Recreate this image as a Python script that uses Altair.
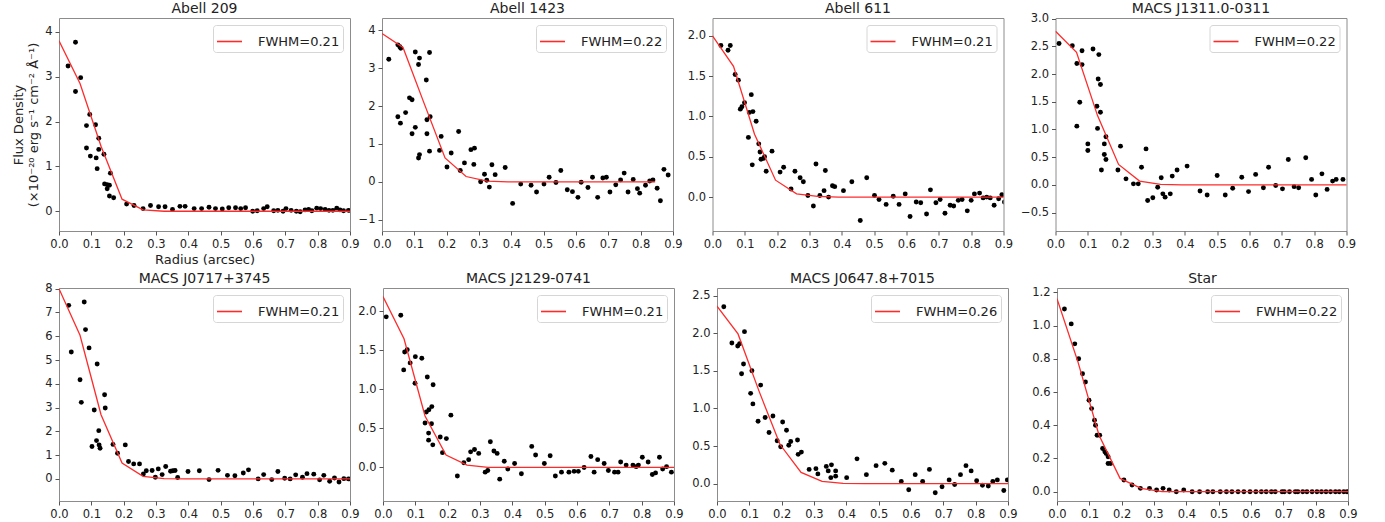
import altair as alt
import pandas as pd

# ---------------- data ----------------
MODEL_R = [0.0, 0.065, 0.13, 0.195, 0.26, 0.325, 0.39, 0.455, 0.52, 0.585,
           0.65, 0.715, 0.78, 0.845, 0.91]

TITLES = ["Abell 209", "Abell 1423", "Abell 611", "MACS J1311.0-0311",
          "MACS J0717+3745", "MACS J2129-0741", "MACS J0647.8+7015", "Star"]
FWHM_LABELS = ["FWHM=0.21", "FWHM=0.22", "FWHM=0.21", "FWHM=0.22",
               "FWHM=0.21", "FWHM=0.21", "FWHM=0.26", "FWHM=0.22"]
X_TICKS = [0.0, 0.1, 0.2, 0.3, 0.4, 0.5, 0.6, 0.7, 0.8, 0.9]

# Abell 209
A209_R = [0.028, 0.051, 0.051, 0.067, 0.085, 0.085, 0.095, 0.097, 0.113, 0.115,
          0.118, 0.123, 0.123, 0.139, 0.141, 0.149, 0.149, 0.156, 0.159, 0.156,
          0.169, 0.209, 0.232, 0.260, 0.283, 0.308, 0.328, 0.351, 0.374, 0.390,
          0.418, 0.441, 0.464, 0.484, 0.505, 0.525, 0.546, 0.562, 0.577, 0.599,
          0.613, 0.633, 0.644, 0.664, 0.677, 0.693, 0.702, 0.718, 0.734, 0.746,
          0.761, 0.772, 0.782, 0.797, 0.809, 0.823, 0.835, 0.847, 0.859, 0.869,
          0.880, 0.895]
A209_F = [3.24, 3.77, 2.67, 2.98, 1.91, 1.41, 2.16, 1.23, 1.93, 1.19,
          0.95, 1.63, 1.38, 1.27, 0.61, 0.59, 0.50, 0.58, 0.85, 0.34,
          0.30, 0.16, 0.13, 0.06, 0.13, 0.10, 0.10, 0.04, 0.11, 0.11,
          0.06, 0.06, 0.09, 0.06, 0.05, 0.08, 0.08, 0.06, 0.08, 0.00,
          0.01, 0.06, 0.10, 0.01, 0.02, 0.00, 0.06, 0.02, 0.00, -0.01,
          0.03, 0.04, 0.01, 0.07, 0.06, 0.04, 0.02, 0.02, 0.07, 0.03,
          0.01, 0.02]
A209_MODEL = [3.80, 2.85, 1.45, 0.27, 0.03, 0.0, 0.0, 0.0, 0.0, 0.0, 0.0, 0.0, 0.0, 0.0, 0.0]

# Abell 1423
A1423_R = [0.021, 0.049, 0.055, 0.058, 0.049, 0.057, 0.073, 0.085, 0.093, 0.093,
           0.103, 0.103, 0.113, 0.116, 0.113, 0.116, 0.137, 0.139, 0.139, 0.147,
           0.149, 0.147, 0.178, 0.183, 0.201, 0.214, 0.237, 0.242, 0.255, 0.275,
           0.286, 0.284, 0.305, 0.317, 0.324, 0.332, 0.340, 0.350, 0.381, 0.404,
           0.429, 0.461, 0.478, 0.501, 0.517, 0.538, 0.553, 0.573, 0.589, 0.606,
           0.616, 0.637, 0.651, 0.667, 0.683, 0.694, 0.705, 0.723, 0.738, 0.749,
           0.761, 0.777, 0.790, 0.797, 0.815, 0.828, 0.838, 0.851, 0.861, 0.872,
           0.885]
A1423_F = [3.24, 3.62, 3.57, 3.53, 1.72, 1.55, 1.83, 2.22, 2.17, 1.27,
           3.43, 1.44, 3.10, 3.27, 0.63, 0.72, 2.69, 1.64, 1.27, 3.42,
           1.72, 0.81, 0.83, 1.20, 0.39, 0.76, 1.33, 0.30, 0.50, 0.85,
           0.89, 0.46, 0.00, 0.20, 0.04, -0.14, 0.45, 0.19, 0.38, -0.57,
           -0.06, -0.09, -0.27, -0.06, 0.12, -0.02, 0.30, -0.21, -0.26, -0.41,
           -0.01, -0.15, 0.12, -0.41, 0.10, 0.12, -0.27, -0.08, 0.05, 0.23,
           -0.27, 0.06, -0.18, -0.30, -0.09, 0.02, 0.05, -0.17, -0.50, 0.33,
           0.18]
A1423_MODEL = [3.92, 3.55, 2.08, 0.63, 0.14, 0.02, 0.0, 0.0, 0.0, 0.0, 0.0, 0.0, 0.0, 0.0]

# Abell 611
A611_R = [0.026, 0.048, 0.055, 0.070, 0.080, 0.086, 0.091, 0.099, 0.111, 0.114,
          0.120, 0.125, 0.123, 0.135, 0.143, 0.147, 0.150, 0.158, 0.161, 0.166,
          0.184, 0.209, 0.220, 0.243, 0.255, 0.271, 0.281, 0.295, 0.312, 0.320,
          0.332, 0.345, 0.349, 0.359, 0.371, 0.378, 0.405, 0.431, 0.457, 0.477,
          0.501, 0.515, 0.537, 0.559, 0.577, 0.596, 0.611, 0.630, 0.644, 0.662,
          0.674, 0.691, 0.704, 0.719, 0.735, 0.746, 0.760, 0.772, 0.788, 0.800,
          0.810, 0.826, 0.837, 0.848, 0.859, 0.871, 0.885, 0.895, 0.903]
A611_F = [1.88, 1.82, 1.88, 1.52, 1.45, 1.09, 1.12, 1.17, 0.74, 1.05,
          1.27, 1.06, 0.40, 0.94, 0.66, 0.56, 0.47, 0.48, 0.50, 0.32,
          0.57, 0.31, 0.37, 0.10, 0.32, 0.24, 0.19, 0.02, -0.11, 0.41,
          0.02, 0.08, 0.33, 0.00, 0.14, 0.13, 0.08, 0.19, -0.29, 0.24,
          0.02, -0.03, -0.09, 0.01, -0.09, 0.04, -0.24, -0.06, -0.07, -0.21,
          0.09, -0.07, -0.03, -0.20, -0.10, -0.11, -0.04, -0.03, -0.17, -0.04,
          0.04, 0.05, -0.01, 0.00, -0.01, -0.10, -0.02, 0.03, -0.06]
A611_MODEL = [2.00, 1.62, 0.78, 0.21, 0.04, 0.01, 0.0, 0.0, 0.0, 0.0, 0.0, 0.0, 0.0, 0.0, 0.0]

# MACS J1311.0-0311
M1311_R = [0.011, 0.052, 0.066, 0.066, 0.075, 0.082, 0.082, 0.100, 0.100, 0.116,
           0.128, 0.130, 0.132, 0.134, 0.139, 0.139, 0.142, 0.151, 0.151, 0.156,
           0.156, 0.193, 0.201, 0.218, 0.241, 0.256, 0.266, 0.280, 0.285, 0.301,
           0.316, 0.327, 0.332, 0.339, 0.355, 0.361, 0.376, 0.407, 0.447, 0.469,
           0.500, 0.525, 0.548, 0.576, 0.597, 0.619, 0.643, 0.659, 0.681, 0.702,
           0.720, 0.738, 0.752, 0.774, 0.792, 0.805, 0.824, 0.840, 0.857, 0.868,
           0.889]
M1311_F = [2.55, 2.51, 2.19, 1.06, 1.49, 2.42, 2.17, 0.74, 0.62, 2.45,
           1.42, 1.02, 1.91, 2.35, 1.81, 1.31, 0.27, 0.74, 0.55, 0.46,
           0.87, 0.27, 0.70, 0.11, 0.02, 0.02, 0.32, 0.65, -0.28, -0.23,
           -0.04, 0.13, -0.16, -0.22, -0.16, 0.16, 0.27, 0.34, -0.11, -0.18,
           0.17, -0.18, -0.06, 0.14, -0.12, 0.19, -0.05, 0.32, -0.01, -0.07,
           0.46, -0.03, -0.05, 0.49, 0.10, -0.18, 0.20, -0.08, 0.07, 0.10,
           0.10]
M1311_MODEL = [2.77, 2.39, 1.25, 0.37, 0.07, 0.01, 0.0, 0.0, 0.0, 0.0, 0.0, 0.0, 0.0, 0.0, 0.0]

# MACS J0717+3745
M0717_R = [0.030, 0.038, 0.065, 0.069, 0.078, 0.082, 0.093, 0.102, 0.109, 0.116,
           0.118, 0.123, 0.124, 0.127, 0.141, 0.143, 0.167, 0.181, 0.205, 0.215,
           0.231, 0.249, 0.261, 0.270, 0.288, 0.298, 0.307, 0.319, 0.330, 0.345,
           0.352, 0.359, 0.367, 0.399, 0.434, 0.464, 0.492, 0.521, 0.544, 0.570,
           0.586, 0.616, 0.633, 0.658, 0.677, 0.698, 0.715, 0.732, 0.753, 0.767,
           0.788, 0.806, 0.819, 0.837, 0.852, 0.866, 0.881, 0.895]
M0717_F = [7.30, 5.34, 4.17, 3.22, 7.44, 6.28, 5.51, 1.36, 2.90, 1.61,
           4.83, 2.03, 1.43, 1.29, 3.54, 2.98, 1.45, 1.08, 1.43, 0.73,
           0.63, 0.63, 0.21, 0.34, 0.35, 0.07, 0.42, 0.18, 0.52, 0.32,
           0.34, 0.35, 0.06, 0.31, 0.34, -0.03, 0.36, 0.15, 0.13, 0.25,
           0.38, 0.00, 0.18, -0.03, 0.31, 0.03, 0.00, 0.17, 0.07, 0.22,
           0.20, -0.04, 0.15, -0.10, 0.04, -0.13, 0.01, 0.00]
M0717_MODEL = [8.00, 6.04, 2.70, 0.67, 0.11, 0.01, 0.0, 0.0, 0.0, 0.0, 0.0, 0.0, 0.0, 0.0, 0.0]

# MACS J2129-0741
M2129_R = [0.010, 0.055, 0.064, 0.067, 0.075, 0.084, 0.099, 0.100, 0.120, 0.130,
           0.134, 0.137, 0.141, 0.141, 0.142, 0.150, 0.151, 0.154, 0.155, 0.177,
           0.184, 0.196, 0.210, 0.230, 0.250, 0.265, 0.271, 0.283, 0.296, 0.316,
           0.324, 0.332, 0.343, 0.353, 0.361, 0.375, 0.386, 0.407, 0.428, 0.460,
           0.472, 0.499, 0.517, 0.533, 0.552, 0.575, 0.591, 0.604, 0.622, 0.643,
           0.653, 0.664, 0.684, 0.697, 0.716, 0.727, 0.735, 0.752, 0.773, 0.783,
           0.790, 0.802, 0.820, 0.833, 0.843, 0.855, 0.865, 0.877, 0.892]
M2129_F = [1.93, 1.95, 1.25, 1.48, 1.51, 1.34, 1.08, 1.42, 1.40, 0.57,
           0.71, 1.16, 0.44, 0.35, 0.74, 0.56, 0.78, 0.29, 1.06, 0.39,
           0.19, 0.37, 0.67, -0.11, 0.06, 0.10, 0.20, 0.23, 0.18, -0.06,
           -0.04, 0.33, 0.21, 0.18, -0.15, 0.08, -0.02, 0.05, -0.08, 0.27,
           0.16, 0.05, 0.15, -0.11, -0.06, -0.06, -0.05, -0.05, 0.00, 0.14,
           -0.06, 0.10, 0.05, -0.04, -0.06, -0.06, 0.07, 0.03, 0.03, 0.01,
           0.03, 0.13, 0.07, -0.09, -0.07, 0.13, -0.02, 0.01, -0.06]
M2129_MODEL = [2.19, 1.65, 0.66, 0.16, 0.03, 0.0, 0.0, 0.0, 0.0, 0.0, 0.0, 0.0, 0.0, 0.0, 0.0]

# MACS J0647.8+7015
M0647_R = [0.021, 0.046, 0.064, 0.070, 0.076, 0.082, 0.085, 0.104, 0.108, 0.111,
           0.127, 0.135, 0.149, 0.161, 0.173, 0.186, 0.197, 0.203, 0.215, 0.222,
           0.228, 0.249, 0.251, 0.261, 0.285, 0.306, 0.312, 0.338, 0.344, 0.352,
           0.354, 0.367, 0.367, 0.401, 0.433, 0.462, 0.492, 0.519, 0.542, 0.570,
           0.593, 0.613, 0.636, 0.657, 0.675, 0.696, 0.718, 0.735, 0.753, 0.770,
           0.786, 0.803, 0.821, 0.839, 0.853, 0.867, 0.887, 0.898]
M0647_F = [2.35, 1.87, 1.83, 1.86, 1.46, 1.59, 2.02, 1.20, 1.50, 1.06,
           0.83, 1.31, 0.88, 0.68, 0.90, 0.57, 0.49, 0.82, 0.71, 0.51,
           0.56, 0.58, 0.39, 0.42, 0.19, 0.20, 0.13, 0.23, 0.17, 0.08,
           0.25, 0.17, 0.10, 0.08, 0.33, 0.12, 0.24, 0.27, 0.18, 0.03,
           -0.08, 0.12, 0.03, 0.19, -0.12, -0.04, 0.05, -0.01, 0.12, 0.24,
           0.17, 0.04, -0.02, -0.03, 0.03, 0.05, -0.09, 0.05]
M0647_MODEL = [2.36, 1.99, 1.23, 0.52, 0.15, 0.03, 0.005, 0.0, 0.0, 0.0, 0.0, 0.0, 0.0, 0.0, 0.0]

# Star
STAR_R = [0.023, 0.044, 0.055, 0.067, 0.079, 0.088, 0.099, 0.107, 0.116, 0.119,
          0.124, 0.132, 0.141, 0.148, 0.152, 0.158, 0.158, 0.166, 0.207, 0.232,
          0.258, 0.286, 0.308, 0.328, 0.347, 0.369, 0.392, 0.418, 0.441, 0.466,
          0.482, 0.505, 0.524, 0.541, 0.560, 0.578, 0.597, 0.615, 0.632, 0.647,
          0.663, 0.675, 0.696, 0.703, 0.719, 0.737, 0.745, 0.760, 0.773, 0.789,
          0.804, 0.818, 0.832, 0.846, 0.861, 0.873, 0.887, 0.897]
STAR_F = [1.10, 1.01, 0.89, 0.80, 0.71, 0.66, 0.55, 0.50, 0.43, 0.40,
          0.34, 0.34, 0.26, 0.24, 0.23, 0.21, 0.17, 0.17, 0.07, 0.04,
          0.02, 0.02, 0.01, 0.02, 0.01, 0.00, 0.01, 0.00, 0.00, 0.00,
          0.00, 0.00, 0.00, 0.00, 0.00, 0.00, 0.00, 0.00, 0.00, 0.00,
          0.00, 0.00, 0.00, 0.00, 0.00, 0.00, 0.00, 0.00, 0.00, 0.00,
          0.00, 0.00, 0.00, 0.00, 0.00, 0.00, 0.00, 0.00]
STAR_MODEL = [1.162, 0.78, 0.34, 0.08, 0.02, 0.0, 0.0, 0.0, 0.0, 0.0, 0.0, 0.0, 0.0, 0.0, 0.0]

Y_DOMAINS = [[-0.44, 4.31], [-1.30, 4.33], [-0.42, 2.22], [-0.83, 3.01],
             [-0.93, 8.03], [-0.43, 2.30], [-0.23, 2.60], [-0.056, 1.226]]
Y_TICKS = [[0, 1, 2, 3, 4], [-1, 0, 1, 2, 3, 4], [0.0, 0.5, 1.0, 1.5, 2.0],
           [-0.5, 0.0, 0.5, 1.0, 1.5, 2.0, 2.5, 3.0], [0, 1, 2, 3, 4, 5, 6, 7, 8],
           [0.0, 0.5, 1.0, 1.5, 2.0], [0.0, 0.5, 1.0, 1.5, 2.0, 2.5],
           [0.0, 0.2, 0.4, 0.6, 0.8, 1.0, 1.2]]
Y_FORMATS = ["d", "d", ".1f", ".1f", "d", ".1f", ".1f", ".1f"]

SERIES = [(A209_R, A209_F, A209_MODEL), (A1423_R, A1423_F, A1423_MODEL),
          (A611_R, A611_F, A611_MODEL), (M1311_R, M1311_F, M1311_MODEL),
          (M0717_R, M0717_F, M0717_MODEL), (M2129_R, M2129_F, M2129_MODEL),
          (M0647_R, M0647_F, M0647_MODEL), (STAR_R, STAR_F, STAR_MODEL)]

# title offsets compensate for a top tick label that pokes above the frame
TITLE_OFFSETS = [2, 2, 2, -3.2, -3.1, 2, 2, 0.5]

RED = "#ff2b2b"
FONT = "DejaVu Sans"
W, H = 291, 213


def make_panel(i):
    r, f, model = SERIES[i]
    pts = pd.DataFrame({"r": r, "f": f})
    mdf = pd.DataFrame({"r": MODEL_R[:len(model)], "f": model,
                        "label": [FWHM_LABELS[i]] * len(model)})
    if i == 0:
        xaxis = alt.Axis(values=X_TICKS, format=".1f", title="Radius (arcsec)")
        yaxis = alt.Axis(values=Y_TICKS[i], format=Y_FORMATS[i],
                         title=["Flux Density", "(×10⁻²⁰ erg s⁻¹ cm⁻² Å⁻¹)"])
    else:
        xaxis = alt.Axis(values=X_TICKS, format=".1f", title=None)
        yaxis = alt.Axis(values=Y_TICKS[i], format=Y_FORMATS[i], title=None)
    x = alt.X("r:Q", scale=alt.Scale(domain=[0, 0.9], nice=False, zero=False), axis=xaxis)
    y = alt.Y("f:Q", scale=alt.Scale(domain=Y_DOMAINS[i], nice=False, zero=False), axis=yaxis)
    points = alt.Chart(pts).mark_circle(size=24, color="black", opacity=1, clip=True).encode(x=x, y=y)
    line = alt.Chart(mdf).mark_line(strokeWidth=1.3, clip=True).encode(
        x=x, y=y,
        color=alt.Color("label:N",
                        scale=alt.Scale(domain=[FWHM_LABELS[i]], range=[RED]),
                        legend=alt.Legend(title=None, orient="top-right", offset=7,
                                          symbolType="stroke", symbolSize=625,
                                          symbolStrokeWidth=1.6, labelFontSize=13,
                                          labelFont=FONT, labelColor="#222",
                                          labelOffset=15, padding=3,
                                          strokeColor="#d6d6d6", fillColor="white",
                                          cornerRadius=3)))
    return alt.layer(points, line).properties(
        width=W, height=H,
        title=alt.TitleParams(TITLES[i], offset=TITLE_OFFSETS[i]))


def indep(c):
    return c.resolve_scale(color="independent").resolve_legend(color="independent")


def row(panels, gaps):
    inner = indep(alt.hconcat(panels[2], panels[3], spacing=gaps[2]))
    mid = indep(alt.hconcat(panels[1], inner, spacing=gaps[1]))
    return indep(alt.hconcat(panels[0], mid, spacing=gaps[0]))


P = [make_panel(i) for i in range(8)]
row1 = row(P[:4], [-3, 3.5, 6])
row2 = row(P[4:], [-3, 7, 13])

chart = indep(alt.vconcat(row1, row2, spacing=4)).properties(
    padding={"left": 12, "top": 1, "right": 5, "bottom": 2}
).configure_view(stroke="#8c8c8c", strokeWidth=1).configure_axis(
    grid=False, domain=False, tickColor="#555", tickSize=4, tickWidth=1,
    labelFont=FONT, labelFontSize=11.5, labelColor="#222", labelPadding=3,
    labelFlush=False, labelOverlap=False,
    titleFont=FONT, titleFontSize=13, titleFontWeight="normal", titleColor="#222",
    minExtent=0
).configure_title(font=FONT, fontSize=14, fontWeight="normal", color="#222",
                  baseline="alphabetic", frame="group")

chart.save("out.html", embed_options={"renderer": "svg", "actions": False})
